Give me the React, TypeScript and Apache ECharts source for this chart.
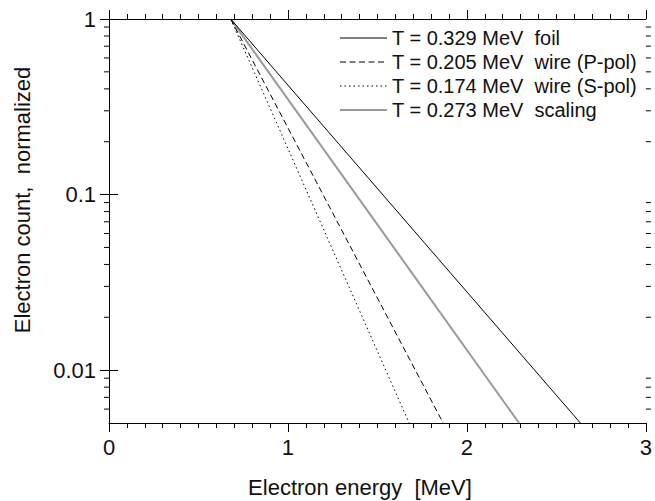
import React, { useEffect, useRef } from "react";
import * as echarts from "echarts";

const seriesNames = [
  "T = 0.329 MeV  foil",
  "T = 0.205 MeV  wire (P-pol)",
  "T = 0.174 MeV  wire (S-pol)",
  "T = 0.273 MeV  scaling",
];
// [energy MeV, normalized count] end points
const foil = [[0.68, 1], [2.634, 0.005]];
const wireP = [[0.68, 1], [1.867, 0.005]];
const wireS = [[0.68, 1], [1.677, 0.005]];
const scaling = [[0.68, 1], [2.291, 0.005]];
const yMinorTicks = [
  0.006, 0.007, 0.008, 0.009,
  0.02, 0.03, 0.04, 0.05, 0.06, 0.07, 0.08, 0.09,
  0.2, 0.3, 0.4, 0.5, 0.6, 0.7, 0.8, 0.9,
];
const xMin = 0;
const xMax = 3;
const yMin = 0.005;
const yMax = 1;

const FONT = "'Liberation Sans', Arial, Helvetica, sans-serif";

const lineStyles: any[] = [
  { color: "#000", width: 1 },
  { color: "#000", width: 1, type: [6, 3.5] },
  { color: "#000", width: 1, type: [1.5, 3] },
  { color: "#999", width: 2 },
];

export default function App() {
  const ref = useRef<HTMLDivElement>(null);
  useEffect(() => {
    if (!ref.current) return;
    const chart = echarts.init(ref.current, undefined, { renderer: "svg" });
    const axisLine = { show: true, lineStyle: { color: "#000", width: 1 } };
    const datasets = [foil, wireP, wireS, scaling];

    const legendGraphics: any[] = [];
    seriesNames.forEach((name, i) => {
      const y = 38 + i * 24;
      const ls = lineStyles[i];
      legendGraphics.push({
        type: "line",
        shape: { x1: 340, y1: y, x2: 387, y2: y },
        style: {
          stroke: ls.color,
          lineWidth: ls.width,
          lineDash: Array.isArray(ls.type) ? ls.type : null,
        },
      });
      legendGraphics.push({
        type: "text",
        x: 392,
        y: y,
        style: {
          text: name,
          font: `20px ${FONT}`,
          fill: "#111",
          textAlign: "left",
          textVerticalAlign: "middle",
        },
      });
    });

    const option: any = {
      animation: false,
      backgroundColor: "#fff",
      grid: { left: 109, right: 4.5, top: 19, bottom: 78, containLabel: false },
      xAxis: [
        {
          type: "value",
          min: xMin,
          max: xMax,
          interval: 1,
          position: "bottom",
          axisLine,
          axisTick: { show: true, length: 9, lineStyle: { color: "#000" } },
          minorTick: { show: true, splitNumber: 10, length: 5, lineStyle: { color: "#000" } },
          splitLine: { show: false },
          axisLabel: { fontFamily: FONT, fontSize: 22, color: "#111", margin: 13 },
        },
        {
          type: "value",
          min: xMin,
          max: xMax,
          interval: 1,
          position: "top",
          axisLine,
          axisTick: { show: true, length: 9, lineStyle: { color: "#000" } },
          minorTick: { show: true, splitNumber: 10, length: 5, lineStyle: { color: "#000" } },
          splitLine: { show: false },
          axisLabel: { show: false },
        },
      ],
      yAxis: [
        {
          type: "log",
          logBase: 10,
          min: yMin,
          max: yMax,
          position: "left",
          axisLine,
          axisTick: { show: true, length: 9, lineStyle: { color: "#000" } },
          splitLine: { show: false },
          axisLabel: {
            fontFamily: FONT,
            fontSize: 22,
            color: "#111",
            margin: 13,
            showMinLabel: false,
            formatter: (v: number) => (v >= 1 ? "1" : v >= 0.1 ? "0.1" : v >= 0.01 ? "0.01" : ""),
          },
        },
        {
          type: "log",
          logBase: 10,
          min: yMin,
          max: yMax,
          position: "right",
          axisLine,
          axisTick: { show: true, length: 9, lineStyle: { color: "#000" } },
          splitLine: { show: false },
          axisLabel: { show: false },
        },
      ],
      graphic: [
        {
          type: "text",
          x: 360,
          y: 487,
          style: {
            text: "Electron energy  [MeV]",
            font: `22px ${FONT}`,
            fill: "#111",
            textAlign: "center",
            textVerticalAlign: "middle",
          },
        },
        {
          type: "text",
          x: 22,
          y: 200,
          rotation: Math.PI / 2,
          style: {
            text: "Electron count,  normalized",
            font: `22px ${FONT}`,
            fill: "#111",
            textAlign: "center",
            textVerticalAlign: "middle",
          },
        },
        ...legendGraphics,
      ],
      series: [
        ...[3, 0, 1, 2].map((i) => ({
          name: seriesNames[i],
          type: "line",
          data: datasets[i],
          symbol: "none",
          lineStyle: lineStyles[i],
          itemStyle: { color: lineStyles[i].color },
        })),
        {
          type: "custom",
          name: "yminor",
          clip: false,
          silent: true,
          data: yMinorTicks.map((v) => [xMin, v]),
          renderItem: (params: any, api: any) => {
            const v = api.value(1);
            const left = api.coord([xMin, v]);
            const right = api.coord([xMax, v]);
            return {
              type: "group",
              children: [
                {
                  type: "line",
                  shape: { x1: left[0] - 5, y1: left[1], x2: left[0], y2: left[1] },
                  style: { stroke: "#000", lineWidth: 1 },
                },
                {
                  type: "line",
                  shape: { x1: right[0], y1: right[1], x2: right[0] + 5, y2: right[1] },
                  style: { stroke: "#000", lineWidth: 1 },
                },
              ],
            };
          },
        },
      ],
    };
    chart.setOption(option);
    return () => chart.dispose();
  }, []);
  return (
    <div
      ref={ref}
      style={{ position: "fixed", left: 0, top: 0, width: 655, height: 501, background: "#fff" }}
    />
  );
}
